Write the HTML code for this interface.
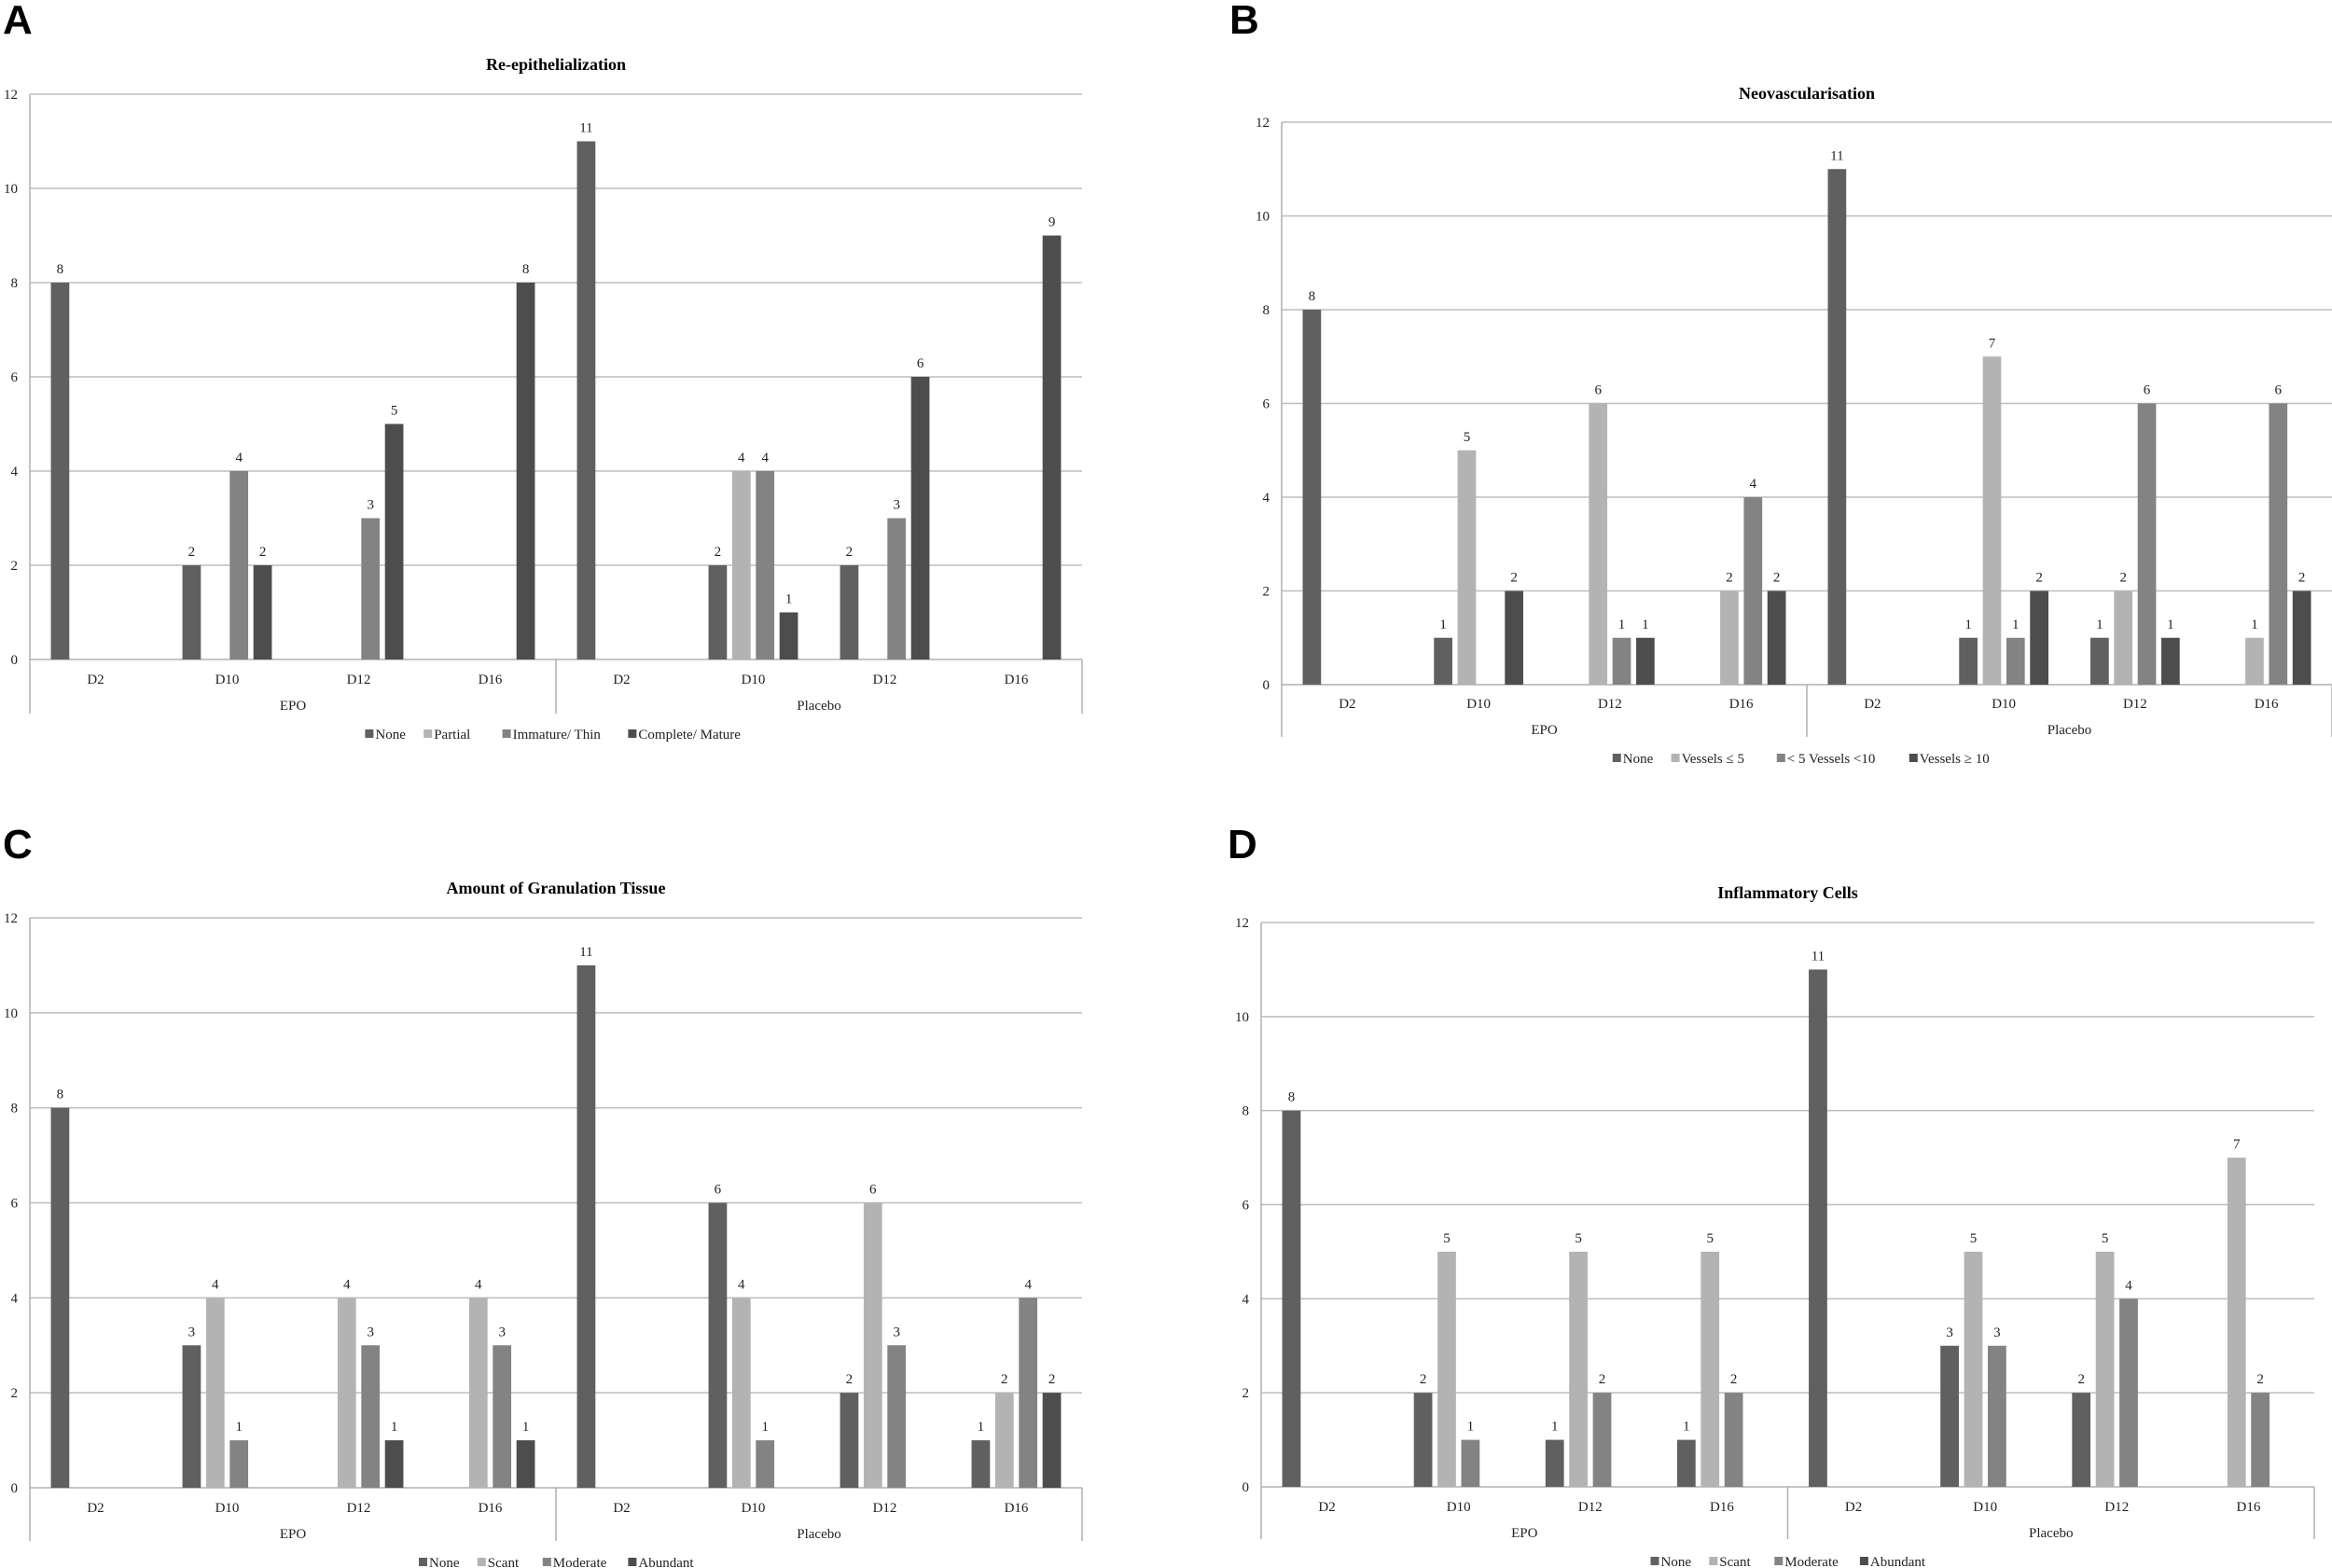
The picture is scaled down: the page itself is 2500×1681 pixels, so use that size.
<!DOCTYPE html>
<html><head><meta charset="utf-8">
<style>
html,body{margin:0;padding:0;background:#fff;}
svg{display:block;font-family:"Liberation Serif",serif;}
.panel-letter{font-family:"Liberation Sans",sans-serif;font-weight:bold;font-size:44px;}
</style></head>
<body>
<svg id="fig" width="2500" height="1681" viewBox="0 0 2500 1681" xmlns="http://www.w3.org/2000/svg"></svg>
<script>
const categories = ["D2","D10","D12","D16","D2","D10","D12","D16"];
const groups = ["EPO","Placebo"];
const yTicks = [0,2,4,6,8,10,12];
const colors = ["#606060","#b3b3b3","#838383","#4d4d4d"];

const titleA = "Re-epithelialization";
const seriesNamesA = ["None","Partial","Immature/ Thin","Complete/ Mature"];
const aNone = [8,2,0,0,11,2,2,0];
const aPartial = [0,0,0,0,0,4,0,0];
const aImmature = [0,4,3,0,0,4,3,0];
const aComplete = [0,2,5,8,0,1,6,9];

const titleB = "Neovascularisation";
const seriesNamesB = ["None","Vessels \u2264 5","< 5 Vessels <10","Vessels \u2265 10"];
const bNone = [8,1,0,0,11,1,1,0];
const bLe5 = [0,5,6,2,0,7,2,1];
const bMid = [0,0,1,4,0,1,6,6];
const bGe10 = [0,2,1,2,0,2,1,2];

const titleC = "Amount of Granulation Tissue";
const seriesNamesC = ["None","Scant","Moderate","Abundant"];
const cNone = [8,3,0,0,11,6,2,1];
const cScant = [0,4,4,4,0,4,6,2];
const cModerate = [0,1,3,3,0,1,3,4];
const cAbundant = [0,0,1,1,0,0,0,2];

const titleD = "Inflammatory Cells";
const seriesNamesD = ["None","Scant","Moderate","Abundant"];
const dNone = [8,2,1,1,11,3,2,0];
const dScant = [0,5,5,5,0,5,5,7];
const dModerate = [0,1,2,2,0,3,4,2];
const dAbundant = [0,0,0,0,0,0,0,0];

const NS = "http://www.w3.org/2000/svg";
const svg = document.getElementById("fig");
function mk(tag, attrs, parent){
  const e = document.createElementNS(NS, tag);
  for (const k in attrs) e.setAttribute(k, attrs[k]);
  (parent||svg).appendChild(e);
  return e;
}

function panel(cfg){
  const g = mk("g", {});
  
  
  const L = cfg.left, R = cfg.right, T = cfg.top, B = cfg.bottom;
  const yScale = v => B - (v/12)*(B-T);
  const catW = (R-L)/categories.length;
  const xCat = i => L + catW*i + catW/2;

  const letter = mk("text", {x:cfg.lx, y:cfg.ly, class:"panel-letter"}, g);
  letter.textContent = cfg.letter;
  
  

  const title = mk("text", {x:(L+R)/2, y:cfg.titleY, "text-anchor":"middle", "font-size":"18", "font-weight":"bold"}, g);
  title.textContent = cfg.title;
  
  

  yTicks.forEach(t => {
    const y = yScale(t);
    if (t > 0) {
      const gl = mk("line", {x1:L, x2:R, y1:y, y2:y, stroke:"#bdbdbd", "stroke-width":"1.5"}, g);
      
      
    }
    const tl = mk("text", {x:L-13, y:y+5, "text-anchor":"end", "font-size":"15", fill:"#222"}, g);
    tl.textContent = t;
    
    
  });

  // axes
  const ax = mk("line", {x1:L, x2:R, y1:B, y2:B, stroke:"#b0b0b0", "stroke-width":"1.5"}, g);
  
  
  [L, (L+R)/2, R].forEach((x, i) => {
    const vl = mk("line", {x1:x, x2:x, y1: i===0 ? T : B, y2:cfg.axBottom, stroke:"#b0b0b0", "stroke-width":"1.5"}, g);
    
    
  });

  categories.forEach((c, i) => {
    const t = mk("text", {x:xCat(i), y:cfg.catY, "text-anchor":"middle", "font-size":"15", fill:"#222"}, g);
    t.textContent = c;
    
    
  });
  groups.forEach((gname, i) => {
    const t = mk("text", {x:L + (R-L)/4*(2*i+1), y:cfg.groupY, "text-anchor":"middle", "font-size":"15", fill:"#222"}, g);
    t.textContent = gname;
    
    
  });

  const bw = catW*0.14, step = catW*0.18;
  cfg.series.forEach((vals, s) => {
    vals.forEach((v, i) => {
      if (!v) return;
      const x = xCat(i) - 1.5*step + s*step - bw/2;
      const r = mk("rect", {x:x, y:yScale(v), width:bw, height:B-yScale(v), fill:colors[s]}, g);
      
      
      const lb = mk("text", {x:x+bw/2, y:yScale(v)-10, "text-anchor":"middle", "font-size":"15", fill:"#222"}, g);
      lb.textContent = v;
      
      
    });
  });

  // legend
  const lg = mk("g", {}, g);
  
  
  const widths = cfg.names.map(n => n.length*7.2 + 12);
  const gap = 22;
  const total = widths.reduce((a,b)=>a+b,0) + gap*(widths.length-1);
  let x = (L+R)/2 - total/2;
  cfg.names.forEach((n, s) => {
    const item = mk("g", {}, lg);
    
    
    mk("rect", {x:x, y:cfg.legY-10, width:9, height:9, fill:colors[s]}, item);
    const t = mk("text", {x:x+11, y:cfg.legY, "font-size":"15", fill:"#222"}, item);
    t.textContent = n;
    x += widths[s] + gap;
  });
}

panel({letter:"A", lx:3, ly:36, title:titleA, titleY:75, left:32, right:1160, top:101, bottom:707,
  catY:733, groupY:761, axBottom:765, legY:792, names:seriesNamesA, series:[aNone,aPartial,aImmature,aComplete]});
panel({letter:"B", lx:1318, ly:36, title:titleB, titleY:106, left:1374, right:2500, top:131, bottom:734,
  catY:759, groupY:787, axBottom:790, legY:818, names:seriesNamesB, series:[bNone,bLe5,bMid,bGe10]});
panel({letter:"C", lx:3, ly:920, title:titleC, titleY:958, left:32, right:1160, top:984, bottom:1595,
  catY:1621, groupY:1649, axBottom:1652, legY:1680, names:seriesNamesC, series:[cNone,cScant,cModerate,cAbundant]});
panel({letter:"D", lx:1316, ly:920, title:titleD, titleY:963, left:1352, right:2481, top:989, bottom:1594,
  catY:1620, groupY:1648, axBottom:1650, legY:1679, names:seriesNamesD, series:[dNone,dScant,dModerate,dAbundant]});
</script>
</body></html>
